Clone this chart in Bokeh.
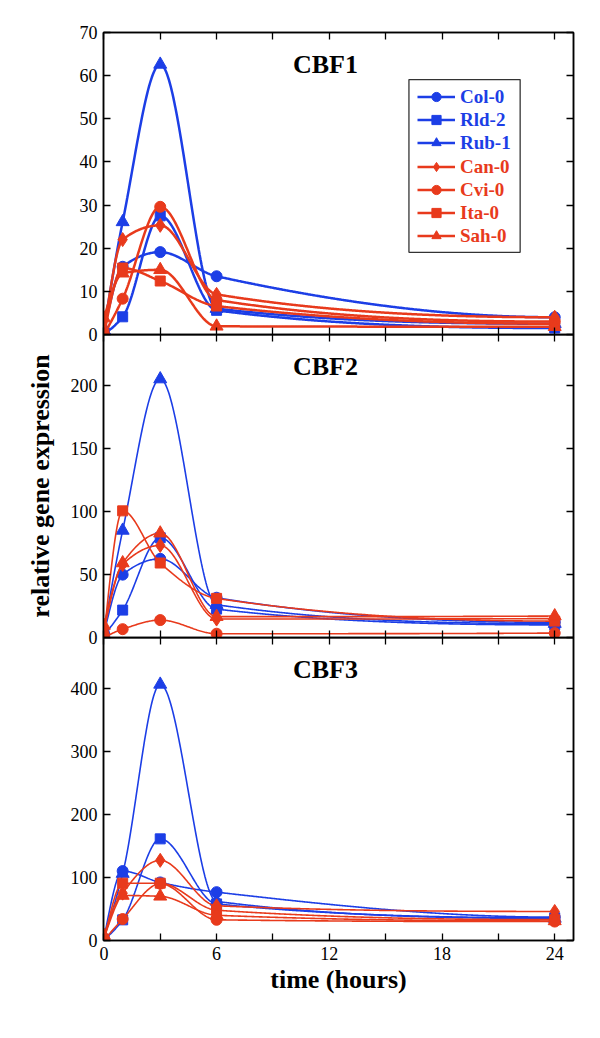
import numpy as np
from bokeh.plotting import figure
from bokeh.models import (Range1d, LinearAxis, FixedTicker, Legend, LegendItem,
                          Label, BoxAnnotation, CustomLabelingPolicy)
from bokeh.layouts import column
from bokeh.embed import file_html
from bokeh.resources import INLINE

# ---------------- data ----------------
hours = [0, 1, 3, 6, 24]
accessions = ["Col-0", "Rld-2", "Rub-1", "Can-0", "Cvi-0", "Ita-0", "Sah-0"]
groups = ["blue", "blue", "blue", "red", "red", "red", "red"]
marker_kinds = ["circle", "square", "triangle", "diamond", "circle", "square", "triangle"]

# CBF1
cbf1_col0 = [1.0, 15.7, 19.1, 13.5, 4.0]
cbf1_rld2 = [0.5, 4.1, 27.5, 5.6, 1.5]
cbf1_rub1 = [1.0, 26.1, 62.6, 6.0, 2.5]
cbf1_can0 = [0.5, 22.0, 25.3, 9.3, 4.0]
cbf1_cvi0 = [0.0, 8.3, 29.6, 8.0, 3.0]
cbf1_ita0 = [0.0, 15.4, 12.4, 6.6, 2.5]
cbf1_sah0 = [3.8, 14.2, 15.0, 1.9, 1.8]

# CBF2
cbf2_col0 = [3.0, 49.8, 62.3, 31.5, 12.0]
cbf2_rld2 = [2.0, 21.7, 79.0, 22.5, 10.0]
cbf2_rub1 = [5.0, 84.8, 204.7, 26.0, 11.0]
cbf2_can0 = [5.0, 57.8, 72.9, 14.6, 15.0]
cbf2_cvi0 = [0.0, 6.6, 13.8, 3.0, 3.5]
cbf2_ita0 = [0.0, 100.3, 59.0, 31.0, 13.0]
cbf2_sah0 = [9.5, 59.0, 82.6, 16.5, 17.0]

# CBF3
cbf3_col0 = [3.0, 110.0, 92.0, 76.6, 37.0]
cbf3_rld2 = [2.0, 32.7, 161.0, 58.0, 36.0]
cbf3_rub1 = [5.0, 106.0, 405.7, 62.0, 35.0]
cbf3_can0 = [3.0, 75.0, 127.0, 55.0, 46.0]
cbf3_cvi0 = [0.0, 34.0, 90.0, 32.8, 30.0]
cbf3_ita0 = [0.0, 90.8, 90.8, 48.0, 33.0]
cbf3_sah0 = [8.0, 71.3, 70.0, 40.0, 31.0]

genes = ["CBF1", "CBF2", "CBF3"]
gene_ymax = [70, 240, 480]
gene_yticks = [[0, 10, 20, 30, 40, 50, 60, 70],
               [0, 50, 100, 150, 200],
               [0, 100, 200, 300, 400]]
x_major_ticks = [0, 6, 12, 18, 24]
x_minor_ticks = [3, 9, 15, 21]

series = {
    "CBF1": [cbf1_col0, cbf1_rld2, cbf1_rub1, cbf1_can0, cbf1_cvi0, cbf1_ita0, cbf1_sah0],
    "CBF2": [cbf2_col0, cbf2_rld2, cbf2_rub1, cbf2_can0, cbf2_cvi0, cbf2_ita0, cbf2_sah0],
    "CBF3": [cbf3_col0, cbf3_rld2, cbf3_rub1, cbf3_can0, cbf3_cvi0, cbf3_ita0, cbf3_sah0],
}

# ---------------- styles ----------------
BLUE = "#1c3ee6"
RED = "#e83a1c"
COLORS = {"blue": BLUE, "red": RED}
SERIF = "Liberation Serif"
MARKER_SIZE = {"circle": 11, "square": 10, "triangle": 13, "diamond": 14}

NO_LABELS = CustomLabelingPolicy(code="""
try { for (let i = 0; i < indices.size; i++) { indices.unset(i) } } catch (e) {}
return indices
""")


def smooth_curve(x, y, n=500):
    """Monotone cubic (PCHIP) curve through the measured points, for drawing."""
    x = np.asarray(x, float)
    y = np.asarray(y, float)
    h = np.diff(x)
    d = np.diff(y) / h
    m = np.zeros_like(y)
    for k in range(1, len(x) - 1):
        if d[k - 1] * d[k] <= 0:
            m[k] = 0.0
        else:
            w1 = 2 * h[k] + h[k - 1]
            w2 = h[k] + 2 * h[k - 1]
            m[k] = (w1 + w2) / (w1 / d[k - 1] + w2 / d[k])

    def end_slope(h0, h1, d0, d1):
        s = ((2 * h0 + h1) * d0 - h0 * d1) / (h0 + h1)
        if np.sign(s) != np.sign(d0):
            return 0.0
        if np.sign(d0) != np.sign(d1) and abs(s) > abs(3 * d0):
            return 3 * d0
        return s

    m[0] = end_slope(h[0], h[1], d[0], d[1])
    m[-1] = end_slope(h[-1], h[-2], d[-1], d[-2])
    xs = np.linspace(x[0], x[-1], n)
    idx = np.clip(np.searchsorted(x, xs, side="right") - 1, 0, len(x) - 2)
    t = (xs - x[idx]) / h[idx]
    h00 = 2 * t**3 - 3 * t**2 + 1
    h10 = t**3 - 2 * t**2 + t
    h01 = -2 * t**3 + 3 * t**2
    h11 = t**3 - t**2
    ys = h00 * y[idx] + h10 * h[idx] * m[idx] + h01 * y[idx + 1] + h11 * h[idx] * m[idx + 1]
    return xs, ys


def style_axis(ax, ticks, minor, labels):
    ax.ticker = FixedTicker(ticks=ticks, minor_ticks=minor)
    ax.major_tick_in = 7
    ax.major_tick_out = 0
    ax.minor_tick_in = 7
    ax.minor_tick_out = 0
    ax.axis_line_color = "black"
    ax.axis_line_width = 1.5
    ax.major_tick_line_color = "black"
    ax.major_tick_line_width = 1.3
    ax.minor_tick_line_color = "black"
    ax.minor_tick_line_width = 1.3
    if labels:
        ax.major_label_text_font = SERIF
        ax.major_label_text_font_size = "18px"
        ax.major_label_text_color = "black"
        ax.major_label_standoff = 6
    else:
        ax.major_label_policy = NO_LABELS
        ax.major_label_text_font_size = "0px"
        ax.major_label_standoff = 0


x_range = Range1d(-0.02, 25)
FRAME_W = 470
FRAME_H = [302, 303, 303]
OVER = 13
TOP = [32, 0, 0]
BOTTOM = [OVER, OVER, 66]

figs = []
for gi, gene in enumerate(genes):
    p = figure(width=103 + FRAME_W + 20, height=FRAME_H[gi] + TOP[gi] + BOTTOM[gi],
               x_range=x_range, y_range=Range1d(0, gene_ymax[gi]),
               output_backend="svg", toolbar_location=None,
               x_axis_location=None, y_axis_location=None,
               min_border_left=103, min_border_right=20,
               min_border_top=TOP[gi], min_border_bottom=BOTTOM[gi])
    p.xgrid.visible = False
    p.ygrid.visible = False
    p.outline_line_color = "black"
    p.outline_line_width = 1.5
    if gi == 0:
        p.background_fill_color = "white"
        p.border_fill_color = "white"
    else:
        p.background_fill_alpha = 0
        p.border_fill_alpha = 0
        p.margin = (-OVER, 0, 0, 0)

    last = gi == len(genes) - 1
    bottom_ax = LinearAxis()
    style_axis(bottom_ax, x_major_ticks, x_minor_ticks, last)
    p.add_layout(bottom_ax, "below")
    top_ax = LinearAxis()
    style_axis(top_ax, x_major_ticks, x_minor_ticks, False)
    p.add_layout(top_ax, "above")
    left_ax = LinearAxis()
    style_axis(left_ax, gene_yticks[gi], [], True)
    p.add_layout(left_ax, "left")
    right_ax = LinearAxis()
    style_axis(right_ax, gene_yticks[gi], [], False)
    p.add_layout(right_ax, "right")

    if last:
        bottom_ax.axis_label = "time (hours)"
        bottom_ax.axis_label_text_font = SERIF
        bottom_ax.axis_label_text_font_style = "bold"
        bottom_ax.axis_label_text_font_size = "26px"
        bottom_ax.axis_label_text_color = "black"
        bottom_ax.axis_label_standoff = 2
    if gi == 1:
        left_ax.axis_label = "relative gene expression"
        left_ax.axis_label_text_font = SERIF
        left_ax.axis_label_text_font_style = "bold"
        left_ax.axis_label_text_font_size = "26px"
        left_ax.axis_label_text_color = "black"
        left_ax.axis_label_standoff = 13

    lw = 2.5 if gi == 0 else 1.6
    renderers = []
    for name, grp, mk, vals in zip(accessions, groups, marker_kinds, series[gene]):
        col = COLORS[grp]
        cx, cy = smooth_curve(hours, vals)
        lr = p.line(cx, cy, line_color=col, line_width=lw)
        sr = p.scatter(hours, vals, marker=mk, size=MARKER_SIZE[mk],
                       fill_color=col, line_color=col)
        renderers.append((name, grp, lr, sr))

    p.add_layout(Label(x=222, y=FRAME_H[gi] - 32, x_units="screen", y_units="screen",
                       text=gene, text_font=SERIF, text_font_style="bold",
                       text_font_size="26px", text_color="black",
                       text_align="center", text_baseline="middle"))

    if gi == 0:
        def make_legend(grp, loc):
            items = [LegendItem(label=n, renderers=[lr, sr])
                     for n, g, lr, sr in renderers if g == grp]
            return Legend(items=items, location=loc, orientation="vertical",
                          border_line_alpha=0, background_fill_alpha=0,
                          padding=0, margin=0, spacing=0,
                          glyph_width=38, glyph_height=23, label_height=23,
                          label_standoff=5, label_text_font=SERIF,
                          label_text_font_style="bold", label_text_font_size="19px",
                          label_text_color=COLORS[grp], label_text_baseline="middle")
        p.add_layout(make_legend("blue", (314, 180)), "center")
        p.add_layout(make_legend("red", (314, 87)), "center")
        p.add_layout(BoxAnnotation(left=16.24, right=22.16, bottom=19.05, top=59.1,
                                   fill_alpha=0, line_color="black", line_width=1.3,
                                   line_alpha=0.8))
    figs.append(p)

layout = column(*figs, spacing=0)
open("out.html", "w").write(file_html(layout, INLINE))
